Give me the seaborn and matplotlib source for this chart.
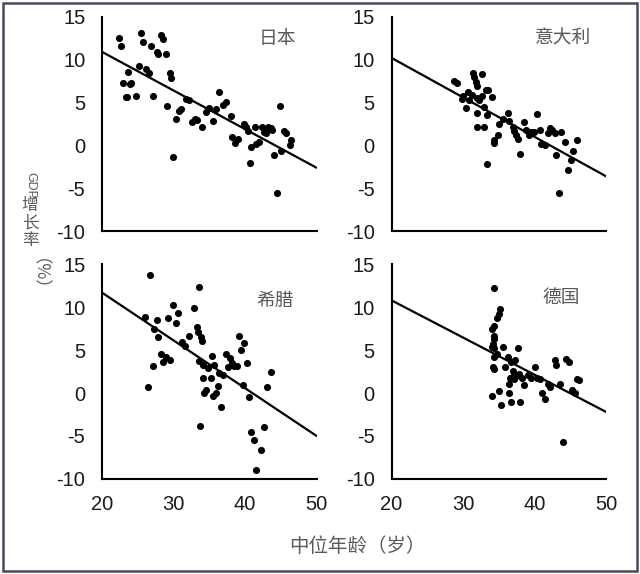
import matplotlib
matplotlib.use("Agg")
import matplotlib.pyplot as plt
import seaborn as sns
import pandas as pd
from matplotlib.patches import Rectangle

sns.set_theme(style="white")
plt.rcParams['font.family'] = ['Liberation Sans', 'Noto Sans CJK SC', 'DejaVu Sans']
plt.rcParams['axes.unicode_minus'] = False

# ---------------- data ----------------
countries = ["日本", "意大利", "希腊", "德国"]

japan_age = [22.4, 22.7, 23.6, 23.0, 24.0, 23.9, 23.3, 23.5, 24.7, 25.5, 25.8, 25.2, 26.2, 26.6,
             26.9, 27.2, 27.7, 27.9, 28.3, 28.5, 28.9, 29.5, 29.7, 29.1, 30.0, 30.4, 30.8, 31.1,
             31.8, 32.1, 32.6, 33.0, 33.3, 34.0, 34.5, 35.0, 35.5, 35.9, 36.4, 36.9, 37.3, 38.0,
             38.2, 38.6, 39.0, 39.9, 40.1, 40.4, 40.7, 40.9, 41.4, 41.5, 41.9, 42.4, 42.7, 42.9,
             43.2, 43.6, 43.8, 44.0, 44.5, 44.9, 45.1, 45.5, 45.8, 46.3, 46.5]
japan_gdp = [12.5, 11.6, 8.6, 7.3, 7.3, 7.2, 5.6, 5.6, 5.8, 13.1, 12.0, 9.2, 8.9, 8.4,
             11.6, 5.8, 10.9, 10.6, 12.9, 12.4, 10.6, 8.4, 7.9, 4.6, -1.3, 3.1, 4.0, 4.3,
             5.4, 5.3, 2.7, 3.1, 3.0, 2.2, 3.9, 4.4, 2.8, 4.2, 6.2, 4.7, 5.1, 3.4,
             1.0, 0.3, 0.8, 2.5, 2.1, 1.7, -2.0, -0.2, 2.2, 0.2, 0.4, 2.2, 1.6, 1.4,
             2.2, 2.0, 1.8, -1.1, -5.6, 4.6, -0.6, 1.7, 1.5, 0.0, 0.6]

italy_age = [28.7, 29.2, 29.8, 30.0, 30.4, 30.7, 30.9, 31.2, 31.4, 31.6, 31.8, 31.9, 32.0, 32.2,
             32.6, 31.9, 32.0, 32.7, 32.9, 32.9, 33.2, 33.4, 33.5, 34.0, 33.3, 34.3, 34.4, 34.9,
             35.1, 35.6, 36.3, 36.5, 37.0, 37.2, 37.4, 37.7, 38.0, 38.6, 38.8, 39.2, 39.5, 39.9,
             40.3, 40.7, 40.9, 41.4, 41.9, 42.2, 42.5, 42.8, 43.0, 43.4, 43.7, 44.2, 44.7, 45.1,
             45.4, 45.9]
italy_gdp = [7.5, 7.3, 5.4, 5.7, 4.4, 6.2, 5.3, 5.9, 8.4, 8.0, 7.4, 6.9, 5.5, 5.3,
             8.3, 3.8, 2.2, 5.7, 4.5, 2.2, 6.4, 3.5, 6.4, 5.6, -2.2, 0.3, 0.6, 1.2,
             2.5, 3.1, 3.8, 2.9, 2.2, 1.7, 1.2, 0.8, -1.0, 2.7, 1.8, 1.2, 1.6, 1.6,
             3.7, 1.8, 0.2, 0.0, 1.4, 2.0, 1.8, 1.4, -1.1, -5.6, 1.6, 0.4, -2.9, -1.7,
             -0.6, 0.6]

greece_age = [26.7, 26.0, 26.4, 27.1, 27.3, 27.7, 27.9, 28.3, 28.6, 28.9, 29.2, 29.5, 29.9, 30.3,
              30.6, 31.2, 31.6, 32.2, 32.8, 33.3, 33.4, 33.6, 33.9, 34.0, 33.7, 33.6, 34.1, 34.1,
              34.2, 34.5, 34.8, 35.3, 35.4, 35.5, 35.7, 35.9, 36.2, 36.4, 36.7, 36.9, 37.4, 37.6,
              37.9, 38.2, 38.5, 38.9, 39.2, 39.5, 39.7, 39.9, 40.3, 40.6, 40.9, 41.2, 41.6, 42.2,
              42.6, 43.1, 43.6]
greece_gdp = [13.7, 8.9, 0.7, 3.1, 7.5, 8.5, 6.5, 4.5, 3.6, 4.2, 8.7, 3.8, 10.2, 8.2,
              9.3, 6.0, 5.5, 6.6, 9.9, 7.7, 7.1, 12.4, 6.5, 6.1, -3.8, 3.7, 3.3, 1.7,
              0.0, 0.4, 2.9, 1.7, 4.3, -0.4, 3.3, 0.0, 0.8, 2.3, -1.6, 2.1, 4.5, 3.0,
              4.1, 3.5, 3.1, 3.1, 6.6, 5.0, 0.9, 5.8, 3.5, -0.5, -4.5, -5.5, -9.0, -6.7,
              -4.0, 0.7, 2.5]

germany_age = [34.4, 35.2, 35.0, 34.7, 34.4, 34.0, 34.3, 34.4, 34.2, 34.1, 34.4, 34.7, 34.3, 35.6,
               37.7, 34.2, 34.4, 35.9, 36.3, 36.7, 37.3, 37.0, 37.2, 36.6, 36.4, 37.4, 37.9, 38.3,
               38.6, 39.1, 39.5, 40.1, 40.4, 40.7, 41.0, 41.4, 41.9, 42.2, 42.8, 43.0, 43.6, 44.0,
               44.4, 44.8, 45.3, 45.6, 45.9, 46.2, 34.1, 35.0, 35.3, 36.5, 36.7, 38.0, 37.2]
germany_gdp = [12.2, 9.8, 9.2, 8.7, 7.8, 7.5, 6.7, 6.3, 5.7, 5.4, 5.2, 4.5, 4.2, 5.4,
               5.2, 3.0, 2.8, 3.0, 4.2, 3.6, 3.8, 2.6, 2.2, 1.8, 1.1, 2.0, 2.2, 1.8,
               0.9, 2.1, 1.8, 3.0, 1.8, 1.6, 0.0, -0.7, 1.1, 0.7, 3.8, 3.3, 1.0, -5.7,
               4.0, 3.6, 0.3, 0.0, 1.6, 1.5, -0.3, 0.2, -1.4, 0.0, -1.0, -1.0, 1.6]

# fitted trend lines (endpoints at age 20 and 50)
line_age = [20, 50]
japan_fit = [10.9, -2.6]
italy_fit = [10.2, -3.6]
greece_fit = [11.7, -5.0]
germany_fit = [10.8, -2.2]

x_ticks = [20, 30, 40, 50]
y_ticks = [-10, -5, 0, 5, 10, 15]

panels = [
    (countries[0], japan_age, japan_gdp, japan_fit),
    (countries[1], italy_age, italy_gdp, italy_fit),
    (countries[2], greece_age, greece_gdp, greece_fit),
    (countries[3], germany_age, germany_gdp, germany_fit),
]
# panel-name positions (data coords)
name_pos = [(44.6, 12.5), (44.0, 12.5), (44.2, 10.8), (43.8, 11.1)]

# ---------------- figure ----------------
fig = plt.figure(figsize=(6.4, 5.74), dpi=100)
fig.patch.set_facecolor("white")

W, H = 640, 574
lefts = [102, 391.5]
tops = [16.7, 264.3]
aw, ah = 214.5, 214.5

cjk = 'Noto Sans CJK SC'
grey = "#5a5a5a"

for i, (name, age, gdp, fit) in enumerate(panels):
    r, c = divmod(i, 2)
    ax = fig.add_axes([lefts[c] / W, 1 - (tops[r] + ah) / H, aw / W, ah / H])
    df = pd.DataFrame({"age": age, "gdp": gdp})
    sns.scatterplot(data=df, x="age", y="gdp", ax=ax, color="black", s=26,
                    edgecolor="black", linewidth=0, marker="o", zorder=3)
    lf = pd.DataFrame({"age": line_age, "gdp": fit})
    sns.lineplot(data=lf, x="age", y="gdp", ax=ax, color="black", linewidth=1.6, zorder=2)
    ax.set_xlim(20, 50)
    ax.set_ylim(-10, 15)
    ax.set_xticks(x_ticks)
    ax.set_yticks(y_ticks)
    ax.set_xlabel("")
    ax.set_ylabel("")
    for s in ["top", "right"]:
        ax.spines[s].set_visible(False)
    for s in ["left", "bottom"]:
        ax.spines[s].set_color("black")
        ax.spines[s].set_linewidth(1.5)
    ax.tick_params(axis="y", length=2, width=0.8, direction="out", labelsize=14.5, pad=10,
                   colors="black")
    ax.tick_params(axis="x", length=2, width=0.8, direction="out", labelsize=14.5, pad=10,
                   colors="black")
    for lab in ax.get_yticklabels() + ax.get_xticklabels():
        lab.set_color("#1a1a1a")
    if r == 0:
        ax.set_xticklabels([])
    ax.set_facecolor("white")
    nx, ny = name_pos[i]
    ax.text(nx, ny, name, ha="center", va="center", fontsize=13.5,
            color=grey, family=cjk)

# axis labels
fig.text(357 / W, 1 - 547 / H, "中位年龄（岁）", ha="center", va="center",
         fontsize=14, color=grey, family=cjk)
fig.text(30 / W, 1 - 186 / H, "GDP", ha="center", va="center", rotation=270,
         fontsize=9, color=grey, family="Liberation Sans")
ylab_chars = ["增", "长", "率"]
ylab_pos = [206, 223, 240]
for ch, yy in zip(ylab_chars, ylab_pos):
    fig.text(30 / W, 1 - yy / H, ch, ha="center", va="center", rotation=0,
             fontsize=12, color=grey, family=cjk)
fig.text(30 / W, 1 - 283 / H, "（%）", ha="center", va="center", rotation=270,
         fontsize=12.5, color=grey, family=cjk)

# outer frame
fig.add_artist(Rectangle((3 / W, 3 / H), 634 / W, 568 / H, transform=fig.transFigure,
                         fill=False, edgecolor="#4a4a5a", linewidth=1.8))

fig.savefig("out.png", dpi=100, facecolor="white")
